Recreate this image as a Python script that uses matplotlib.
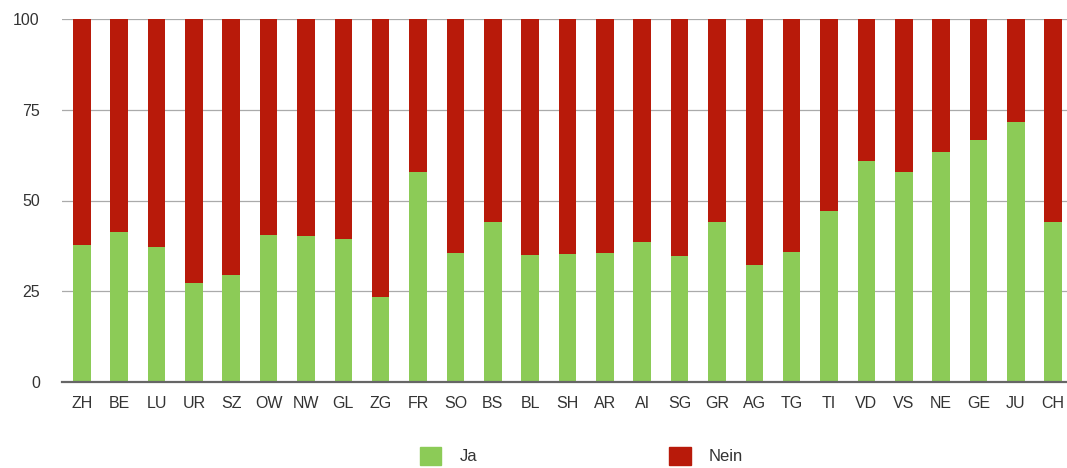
import matplotlib
matplotlib.use("Agg")
import matplotlib.pyplot as plt
from matplotlib.patches import Patch

cantons = ["ZH", "BE", "LU", "UR", "SZ", "OW", "NW", "GL", "ZG", "FR", "SO", "BS", "BL",
           "SH", "AR", "AI", "SG", "GR", "AG", "TG", "TI", "VD", "VS", "NE", "GE", "JU", "CH"]
ja = [37.7, 41.4, 37.3, 27.4, 29.4, 40.4, 40.2, 39.3, 23.3, 57.9, 35.4, 44.2, 35.0,
      35.2, 35.6, 38.7, 34.7, 44.0, 32.2, 35.7, 47.1, 60.9, 57.9, 63.3, 66.8, 71.6, 44.0]
nein = [100 - v for v in ja]

GREEN = "#8ccb57"
RED = "#b81a0a"
TXT = "#333333"

plt.rcParams["font.family"] = ["Liberation Sans", "DejaVu Sans"]

fig = plt.figure(figsize=(10.67, 4.68), dpi=100)
ax = fig.add_axes([62 / 1067, 1 - 382 / 468, 1 - 62 / 1067, 363 / 468])

x = list(range(len(cantons)))
ax.bar(x, ja, width=0.47, color=GREEN, zorder=2)
ax.bar(x, nein, bottom=ja, width=0.47, color=RED, zorder=2)

ax.set_ylim(0, 100)
ax.set_xlim(-0.53, 26.37)
ax.set_yticks([0, 25, 50, 75, 100])
ax.set_xticks(x)
ax.set_xticklabels(cantons)
ax.tick_params(axis="y", length=0, pad=16, labelsize=11.5, labelcolor=TXT)
ax.tick_params(axis="x", length=0, pad=10, labelsize=11.5, labelcolor=TXT)
ax.grid(axis="y", color="#aaaaaa", linewidth=0.9, zorder=1)
for s in ["top", "right", "left"]:
    ax.spines[s].set_visible(False)
ax.spines["bottom"].set_color("#666666")
ax.spines["bottom"].set_linewidth(1.6)
ax.spines["bottom"].set_zorder(3)

handles = [Patch(color=GREEN, label="Ja"), Patch(color=RED, label="Nein")]
fig.legend(handles=handles, loc="center", bbox_to_anchor=(0.545, 0.026), ncol=2,
           frameon=False, fontsize=12, labelcolor=TXT, handlelength=1.3, handleheight=1.3,
           handletextpad=1.1, columnspacing=11.5, borderpad=0)

fig.savefig("out.png", dpi=100)
